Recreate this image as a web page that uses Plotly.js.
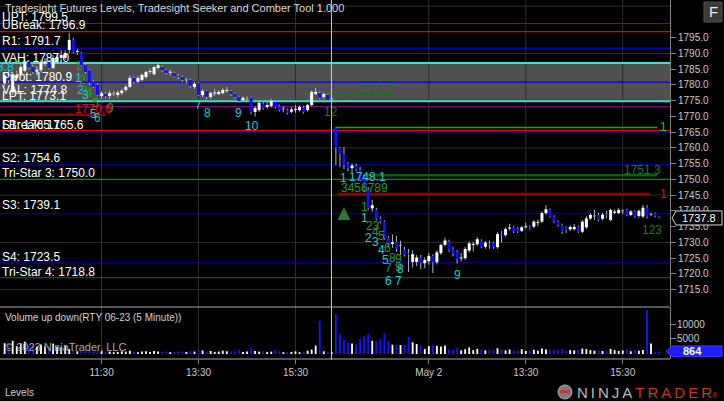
<!DOCTYPE html>
<html><head><meta charset="utf-8">
<script src="https://cdn.plot.ly/plotly-3.0.1.min.js"></script>
<style>html,body{margin:0;padding:0;background:#000;}#chart{width:724px;height:401px;}</style>
</head><body><div id="chart"></div>
<script>
// ---------- DATA ----------
const openP = [
1780.5,1783.0,1778.4,1782.2,1783.2,1784.5,1787.5,1785.7,1784.2,1784.7,
1786.8,1787.3,1785.4,1787.3,1788.6,1788.6,1791.1,1794.3,1790.5,1790.1,
1786.3,1784.7,1781.0,1780.0,1776.5,1777.2,1776.5,1777.2,1776.8,1777.4,
1778.4,1779.4,1782.2,1781.0,1781.6,1782.5,1784.1,1783.4,1785.4,1785.7,
1784.7,1784.0,1783.8,1782.8,1782.5,1781.6,1781.6,1779.4,1780.6,1776.8,
1778.1,1776.2,1777.4,1777.1,1777.4,1778.2,1778.0,1777.2,1776.2,1775.2,
1775.6,1776.0,1771.4,1772.0,1774.0,1773.0,1773.3,1774.6,1773.3,1772.4,
1772.0,1771.5,1772.2,1772.0,1772.7,1772.0,1773.6,1777.1,1777.4,1776.2,
1776.8,1775.6,1766.3,1760.0,1758.1,1754.9,1753.6,1754.2,1753.0,1751.0,
1746.7,1740.8,1740.3,1737.6,1736.6,1731.5,1729.5,1730.2,1729.0,1727.6,
1726.5,1723.8,1723.8,1725.2,1723.4,1724.0,1725.7,1723.7,1726.6,1729.2,
1730.2,1727.8,1727.0,1725.0,1725.0,1727.4,1729.3,1729.4,1730.5,1728.6,
1729.5,1729.9,1728.5,1732.6,1732.3,1734.4,1734.9,1734.3,1733.7,1734.9,
1735.0,1735.0,1736.3,1736.6,1739.3,1740.3,1738.2,1736.6,1735.5,1735.0,
1734.1,1734.2,1735.0,1733.4,1734.8,1737.6,1738.4,1738.7,1737.5,1738.7,
1737.1,1739.4,1739.3,1740.0,1740.3,1738.7,1739.8,1738.4,1738.2,1741.0,
1738.9,1739.3,1738.2];
const highP = [
1784.0,1784.5,1784.3,1784.5,1786.5,1789.0,1788.0,1786.5,1786.0,1788.0,
1788.5,1788.0,1789.5,1790.0,1791.0,1791.0,1796.5,1795.0,1791.5,1790.5,
1786.8,1785.0,1781.5,1780.5,1778.0,1777.8,1778.2,1778.0,1778.2,1778.8,
1780.0,1783.0,1782.6,1782.8,1783.6,1784.5,1785.2,1786.0,1787.0,1786.2,
1785.0,1784.8,1784.2,1783.5,1783.0,1782.3,1782.0,1781.0,1781.0,1778.6,
1778.5,1777.8,1778.6,1778.3,1779.0,1779.4,1778.4,1777.6,1776.6,1776.3,
1776.4,1776.3,1773.2,1774.8,1774.6,1774.6,1775.6,1775.0,1773.8,1773.2,
1772.4,1772.9,1773.6,1773.5,1773.2,1774.0,1778.2,1779.0,1778.0,1777.6,
1777.2,1776.0,1766.6,1760.3,1760.3,1755.5,1755.1,1755.0,1754.0,1751.4,
1747.5,1743.5,1741.0,1738.2,1737.0,1732.0,1732.5,1732.0,1730.5,1728.5,
1728.0,1727.5,1726.0,1726.0,1725.3,1726.6,1726.2,1727.5,1729.6,1731.5,
1730.8,1728.5,1727.5,1726.6,1728.5,1730.3,1730.2,1731.6,1731.0,1730.5,
1730.6,1730.3,1733.2,1733.6,1734.7,1735.9,1735.3,1734.8,1735.3,1736.2,
1735.4,1737.0,1737.3,1739.8,1741.9,1740.8,1738.6,1737.0,1736.0,1735.1,
1735.4,1735.8,1735.4,1737.1,1738.3,1739.3,1740.3,1739.4,1739.4,1740.0,
1740.8,1740.5,1741.0,1740.6,1740.7,1740.3,1740.2,1740.5,1741.9,1741.8,
1739.5,1739.6,1738.3];
const lowP = [
1779.5,1780.5,1776.8,1781.5,1782.5,1784.0,1785.0,1783.5,1783.0,1784.0,
1786.0,1785.0,1785.0,1786.8,1787.5,1788.0,1790.0,1790.0,1789.5,1786.0,
1783.5,1780.0,1779.0,1776.5,1775.5,1775.8,1775.5,1776.5,1776.0,1776.8,
1777.8,1779.0,1780.5,1780.5,1781.0,1782.0,1783.5,1783.0,1785.0,1784.2,
1783.2,1782.9,1782.4,1781.8,1781.0,1780.6,1779.2,1778.8,1776.5,1776.2,
1775.4,1775.5,1776.5,1776.8,1777.0,1777.5,1776.6,1775.8,1774.5,1774.7,
1774.9,1770.8,1770.0,1771.4,1772.2,1772.4,1772.8,1772.5,1771.6,1771.3,
1770.6,1771.0,1771.2,1771.6,1770.9,1771.6,1773.2,1776.8,1775.5,1775.6,
1774.8,1775.2,1754.6,1754.0,1753.3,1752.5,1752.4,1752.6,1749.3,1746.2,
1740.3,1739.7,1737.0,1736.0,1730.8,1728.6,1728.3,1727.0,1726.0,1725.5,
1720.6,1722.0,1722.5,1721.5,1721.8,1723.0,1720.3,1723.0,1726.0,1728.8,
1727.0,1725.5,1723.3,1723.9,1724.5,1726.8,1727.1,1728.9,1728.1,1728.0,
1728.0,1728.0,1728.0,1730.0,1731.9,1733.8,1733.0,1733.0,1733.3,1734.4,
1734.0,1734.6,1735.2,1736.2,1738.8,1737.8,1736.1,1735.0,1732.7,1733.0,
1733.6,1733.8,1733.0,1732.9,1734.3,1737.1,1737.1,1736.7,1737.0,1737.7,
1736.7,1738.9,1738.9,1739.0,1738.3,1738.3,1737.8,1737.9,1737.8,1737.6,
1738.3,1738.0,1737.7];
const closeP = [
1783.0,1781.5,1783.2,1783.2,1785.7,1787.5,1785.5,1784.1,1784.8,1787.3,
1787.5,1785.4,1788.6,1788.9,1789.5,1790.1,1794.3,1790.5,1790.8,1786.3,
1784.1,1780.6,1779.4,1776.8,1777.4,1776.4,1777.4,1777.2,1777.6,1778.2,
1779.4,1782.2,1781.0,1782.2,1783.2,1784.1,1784.4,1785.7,1786.3,1784.7,
1783.8,1784.1,1782.8,1782.6,1781.6,1781.6,1779.7,1780.3,1776.8,1778.1,
1776.2,1777.4,1777.5,1777.8,1778.4,1778.3,1777.1,1776.2,1774.9,1775.9,
1775.6,1771.4,1772.7,1774.3,1772.7,1773.6,1774.9,1773.0,1772.0,1772.4,
1771.1,1772.2,1772.3,1773.0,1771.4,1773.6,1777.8,1777.8,1775.9,1777.1,
1775.2,1775.6,1760.0,1758.1,1754.6,1753.6,1754.4,1753.1,1749.8,1746.7,
1740.8,1741.8,1737.6,1736.6,1731.3,1729.2,1730.0,1727.9,1729.0,1726.0,
1726.3,1726.2,1725.2,1723.4,1724.4,1725.7,1723.7,1726.8,1729.2,1730.6,
1727.6,1726.5,1724.6,1725.1,1727.9,1729.7,1729.4,1731.0,1728.6,1729.9,
1729.4,1728.5,1732.6,1732.5,1734.2,1734.7,1733.5,1733.5,1734.8,1735.0,
1734.5,1736.6,1736.4,1739.3,1740.5,1738.2,1736.6,1735.5,1733.4,1734.0,
1734.9,1734.9,1733.4,1736.6,1737.6,1738.7,1738.4,1737.1,1738.8,1738.6,
1740.3,1739.8,1740.3,1740.0,1738.7,1739.8,1738.2,1740.0,1741.0,1738.2,
1738.9,1738.4,1737.8];
const volume = [
3600,2800,4400,2600,3500,4100,2700,3000,2300,3200,
2500,2600,3300,2400,2200,2700,1600,1400,900,1200,
1000,1300,800,1100,900,700,800,600,700,900,
800,1100,700,600,800,900,700,1000,800,700,
900,600,700,800,900,700,1000,800,1300,1200,
900,1000,700,800,1100,900,700,800,1400,700,
800,1900,1000,800,900,700,800,1300,900,600,
800,700,900,600,800,1100,1500,2800,11000,900,
700,600,13300,6700,4700,3900,3500,3200,5000,5900,
6700,4400,4400,5000,6900,4400,3100,3000,3000,3000,
5800,3900,3300,2800,1700,2600,2900,2700,2500,2800,
1500,1300,2000,1200,1600,2200,1300,1700,1400,1200,
1600,1300,1900,1400,1200,1500,1100,1200,1600,1000,
1200,1400,1100,1800,1500,1300,1400,1200,1700,1000,
1300,1200,1500,1800,1600,1300,1100,1400,1000,1200,
1700,1300,1000,1200,1400,900,1300,1100,1300,14700,
3500,800,864];

const tickIdx  = [24, 48, 72, 105, 129, 153];
const tickText = ['11:30', '13:30', '15:30', 'May 2', '13:30', '15:30'];
const sessionBreak = 80.9;

const levelNames  = ['UPT','UBreak','R1','VAH','Pivot','VAL','LPT','LBreak','S1','S2','Tri-Star 3','S3','S4','Tri-Star 4'];
const levelValues = [1799.5,1796.9,1791.7,1787.0,1780.9,1774.8,1773.1,1765.6,1765.1,1754.6,1750.0,1739.1,1723.5,1718.8];
const gridPrices  = [1805,1790,1775,1760,1745,1730,1715];
const volTicks = [5000, 10000];
const volTickText = ['5000', '10000'];

const segValues = [1766.5, 1745.3, 1751.3, 1777.0, 1770.5];
const segStart  = [82, 82.5, 88.7, 80.5, -1.2];
const segEnd    = [161.5, 159.8, 161.5, 96.1, 24.9];

const cntText = ['3.8','1','1','2','2','3','3','4','5','9','1770.6','5','6','7','8','9','10','12','1777.0',
  '1','1748.1','3456789','1','1','23','2','4','5','3','4','6','8','9','5','7','9','8','6','7','9','1751.3','123','1','1'];
const cntBar  = [0.3,18.4,18.2,19.4,18.7,19.7,20.1,20.9,22.4,26.1,21.9,21.9,22.9,47.9,50.1,58.0,61.2,80.8,92.4,
  83.8,89.7,89.2,89.2,89.0,91.2,90.0,91.9,93.4,91.9,93.2,94.7,96.1,97.6,94.2,95.1,97.4,98.1,94.9,97.4,112.0,158.0,160.3,163.2,163.2];
const cntPrice= [1785.7,1786.0,1782.2,1781.6,1778.4,1778.1,1776.8,1777.4,1774.3,1772.7,1772.4,1770.8,1769.5,1773.6,1771.1,1771.1,1767.0,1771.4,1779.0,
  1750.5,1750.8,1747.3,1741.2,1737.8,1735.2,1731.4,1733.3,1732.0,1730.1,1727.6,1728.2,1725.1,1724.7,1724.4,1721.9,1722.2,1721.6,1717.8,1717.8,1719.7,1753.0,1734.0,1766.6,1745.4];
const cntKind = ['c','g','c','g','c','g','c','g','g','g','r','c','c','c','c','c','c','d','d',
  'c','c','g','g','c','g','c','g','g','c','c','g','g','g','c','g','g','c','c','c','c','d','d','b','r'];

const arrowBar = 84.0, arrowPrice = 1741.2;
const lastPrice = 1737.8, lastVolume = 864;

// ---------- STYLE ----------
const F = 'Liberation Sans, Arial, sans-serif';
const levelColors = ['#800080','#e00000','#0000e6','#40e0d0','#0000e6','#40e0d0','#800080','#e00000','#0000e6','#0000b4','#1a801a','#0000b4','#0000b4','#0d550d'];
const levelWidths = [1.2,1.2,1.2,2,1.2,2,1.2,1.2,1.2,1.2,1.3,1.2,1.2,1.3];
const labelShift  = [7,6.3,6.6,5,5.3,11,11,5.3,6.9,6.7,6,8.3,6,5.6];
const segColors = ['#00b400','#8b0000','#0b5e0b','#1e6e1e','#8b0000'];
const segWidths = [1.5,3,2.5,1.5,2.5];
const kindColor = {c:'#22c7d6', g:'#2a9a2a', d:'#1d7a1d', r:'#dd1010', b:'#10d010'};
const volDomain = [0.0028, 0.1472], volRange = [-1667, 15667];

// ---------- BUILD ----------
const idx = openP.map((_, i) => i);
const bodyBase = [], bodyLen = [], bodyCol = [], wickLen = [], volCol = [];
for (let i = 0; i < idx.length; i++) {
  const o = openP[i], c = closeP[i];
  let lo = Math.min(o, c), hi = Math.max(o, c);
  if (hi - lo < 0.3) { const m = (hi + lo) / 2; lo = m - 0.15; hi = m + 0.15; }
  bodyBase.push(lo); bodyLen.push(hi - lo);
  bodyCol.push(c > o ? '#ffffff' : (c < o ? '#1010ff' : '#a0a0a0'));
  wickLen.push(highP[i] - lowP[i]);
  volCol.push(c >= o ? '#ffffff' : '#1414ff');
}
const volToPaper = v => volDomain[0] + (v - volRange[0]) / (volRange[1] - volRange[0]) * (volDomain[1] - volDomain[0]);

const traces = [
  {type:'bar', x:idx, y:wickLen, base:lowP, width:0.25, marker:{color:'#b4b4b4', line:{width:0}}, xaxis:'x', yaxis:'y', hoverinfo:'skip'},
  {type:'bar', x:idx, y:bodyLen, base:bodyBase, width:0.74, marker:{color:bodyCol, line:{width:0}}, xaxis:'x', yaxis:'y', hoverinfo:'skip'},
  {type:'bar', x:idx, y:volume, width:0.45, marker:{color:volCol, line:{width:0}}, xaxis:'x', yaxis:'y2', hoverinfo:'skip'},
  {type:'scatter', mode:'markers', x:[arrowBar], y:[arrowPrice], marker:{symbol:'arrow-up', size:13, color:'#2f7a2f'}, xaxis:'x', yaxis:'y', hoverinfo:'skip'}
];

const shapes = [];
shapes.push({type:'rect', xref:'paper', x0:0, x1:1, yref:'y', y0:levelValues[5], y1:levelValues[3], fillcolor:'#505050', line:{width:0}, layer:'below'});
gridPrices.forEach(p => shapes.push({type:'line', xref:'paper', x0:0, x1:1, yref:'y', y0:p, y1:p, line:{color:'#2e2e2e', width:1}, layer:'below'}));
tickIdx.forEach(t => shapes.push({type:'line', xref:'x', x0:t, x1:t, yref:'paper', y0:0, y1:1, line:{color:'#2e2e2e', width:1}, layer:'below'}));
levelValues.forEach((v, k) => shapes.push({type:'line', xref:'paper', x0:0, x1:1, yref:'y', y0:v, y1:v, line:{color:levelColors[k], width:levelWidths[k]}, layer:'below'}));
segValues.forEach((v, k) => shapes.push({type:'line', xref:'x', x0:segStart[k], x1:segEnd[k], yref:'y', y0:v, y1:v, line:{color:segColors[k], width:segWidths[k]}, layer:'below'}));
shapes.push({type:'line', xref:'x', x0:sessionBreak, x1:sessionBreak, yref:'paper', y0:0, y1:1, line:{color:'#d0d0d0', width:1}});
shapes.push({type:'line', xref:'paper', x0:0, x1:1, yref:'paper', y0:0.1472, y1:0.1472, line:{color:'#a8a8a8', width:1}});
shapes.push({type:'line', xref:'paper', x0:0, x1:1, yref:'paper', y0:0.0028, y1:0.0028, line:{color:'#a8a8a8', width:1}});
shapes.push({type:'path', xref:'paper', yref:'y', path:'M 1.003 1737.75 L 1.009 1739.98 L 1.0776 1739.98 L 1.0776 1735.53 L 1.009 1735.53 Z', fillcolor:'#000000', line:{color:'#d8d8d8', width:1}});
{
  const yt = volToPaper(lastVolume), y1 = volToPaper(2700), y0 = volToPaper(-800);
  shapes.push({type:'path', xref:'paper', yref:'paper', path:`M 0.994 ${yt} L 1.003 ${y1} L 1.0776 ${y1} L 1.0776 ${y0} L 1.003 ${y0} Z`, fillcolor:'#1e1eff', line:{color:'#3a3aff', width:1}});
}
shapes.push({type:'rect', xref:'paper', yref:'paper', x0:1.0507, x1:1.0776, y0:0.9389, y1:0.9944, fillcolor:'#3a3a3a', line:{color:'#505050', width:1}});
shapes.push({type:'circle', xref:'paper', yref:'paper', x0:0.8328, x1:0.8537, y0:-0.1083, y1:-0.0694, fillcolor:'#7a7a7a', line:{color:'#b0b0b0', width:1}});
shapes.push({type:'rect', xref:'paper', yref:'paper', x0:0.8358, x1:0.8507, y0:-0.0920, y1:-0.0840, fillcolor:'#c8372d', line:{width:0}});

const annotations = [];
annotations.push({xref:'paper', yref:'paper', x:0, xshift:3, y:0.978, xanchor:'left', yanchor:'middle', showarrow:false,
  text:'Tradesight Futures Levels, Tradesight Seeker and Comber Tool 1.000', font:{family:F, size:11, color:'#d8d8d8'}});
levelNames.forEach((n, k) => annotations.push({xref:'paper', x:0, xanchor:'left', yref:'y', y:levelValues[k], yanchor:'middle', yshift:labelShift[k],
  showarrow:false, text:n + ': ' + levelValues[k].toFixed(1), font:{family:F, size:12, color:'#ffffff'}}));
cntText.forEach((t, k) => annotations.push({xref:'x', x:cntBar[k], xanchor:'center', yref:'y', y:cntPrice[k], yanchor:'middle', showarrow:false, text:t,
  font:{family:F, size:12, color:kindColor[cntKind[k]]}}));
volTicks.forEach((v, k) => annotations.push({xref:'paper', yref:'paper', x:1, xshift:6, xanchor:'left', y:volToPaper(v), yanchor:'middle', showarrow:false,
  text:volTickText[k], bgcolor:'#000000', borderpad:0, font:{family:F, size:10, color:'#c8c8c8'}}));
annotations.push({xref:'paper', yref:'paper', x:1.017, xanchor:'left', y:volToPaper(950), yanchor:'middle', showarrow:false, text:'<b>' + lastVolume + '</b>', font:{family:F, size:11, color:'#ffffff'}});
annotations.push({xref:'paper', yref:'y', x:1.0433, xanchor:'center', y:lastPrice, yanchor:'middle', showarrow:false, text:lastPrice.toFixed(1), font:{family:F, size:11, color:'#ffffff'}});
annotations.push({xref:'paper', yref:'paper', x:0, xshift:3, y:0.1167, xanchor:'left', yanchor:'middle', showarrow:false,
  text:'Volume up down(RTY 06-23 (5 Minute))', font:{family:F, size:10, color:'#d0d0d0'}});
annotations.push({xref:'paper', yref:'paper', x:0, xshift:3, y:0.0361, xanchor:'left', yanchor:'middle', showarrow:false,
  text:'© 2023 NinjaTrader, LLC', font:{family:F, size:11, color:'#a8a8a8'}});
annotations.push({xref:'paper', yref:'paper', x:0, xshift:3, y:-0.0889, xanchor:'left', yanchor:'middle', showarrow:false,
  text:'Levels', font:{family:F, size:10, color:'#d0d0d0'}});
annotations.push({xref:'paper', yref:'paper', x:1.0642, xanchor:'center', y:0.9667, yanchor:'middle', showarrow:false, text:'F', font:{family:F, size:15, color:'#e8e8e8'}});
const sp = '\u2009';
annotations.push({xref:'paper', yref:'paper', x:0.9657, xanchor:'center', y:-0.0889, yanchor:'middle', showarrow:false,
  text:'<span style="color:#b8b8b8">' + 'NINJA'.split('').join(sp) + sp + '</span><span style="color:#c8372d">' + 'TRADER'.split('').join(sp) + '</span><span style="color:#c8372d;font-size:8px">®</span>',
  font:{family:F, size:15, color:'#b8b8b8'}});

const priceTicks = [];
for (let p = 1715; p <= 1795; p += 5) priceTicks.push(p);

const layout = {
  width:724, height:401,
  margin:{l:0, r:54, t:0, b:41, pad:0},
  paper_bgcolor:'#000000', plot_bgcolor:'#000000',
  showlegend:false, barmode:'overlay',
  font:{family:F, color:'#c8c8c8'},
  xaxis:{range:[-1.14, 164.7], anchor:'y2', tickvals:tickIdx, ticktext:tickText, ticks:'outside', ticklen:4, tickcolor:'#808080',
    tickfont:{family:F, size:10, color:'#c8c8c8'}, showgrid:false, zeroline:false, showline:false, fixedrange:true},
  yaxis:{domain:[0.15, 1], range:[1709.8, 1806.97], side:'right', anchor:'x', tickvals:priceTicks, tickformat:'.1f',
    ticks:'outside', ticklen:5, tickcolor:'#808080', tickfont:{family:F, size:10, color:'#c8c8c8'},
    showgrid:false, zeroline:false, showline:true, linecolor:'#808080', fixedrange:true},
  yaxis2:{domain:volDomain, range:volRange, side:'right', anchor:'x', tickvals:volTicks, showticklabels:false,
    ticks:'outside', ticklen:5, tickcolor:'#808080',
    showgrid:false, zeroline:false, showline:true, linecolor:'#808080', fixedrange:true},
  shapes:shapes, annotations:annotations
};

Plotly.newPlot('chart', traces, layout, {displayModeBar:false, staticPlot:true});
</script>
</body></html>
